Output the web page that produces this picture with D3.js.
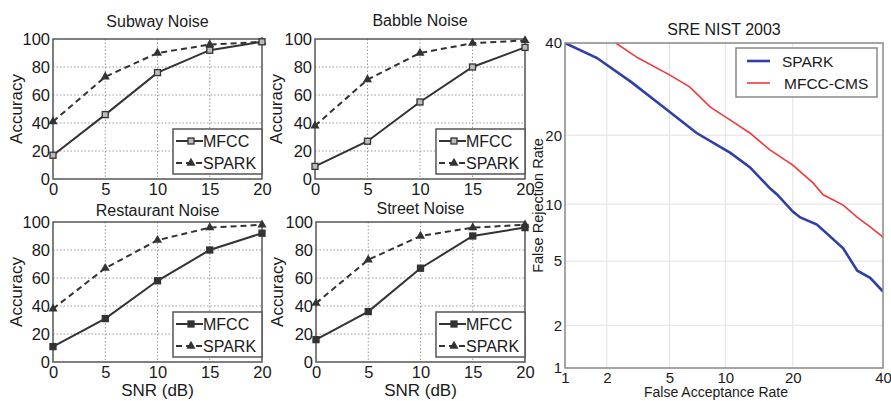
<!DOCTYPE html>
<html>
<head>
<meta charset="utf-8">
<script src="https://cdn.jsdelivr.net/npm/d3@7"></script>
<style>
  html, body { margin: 0; padding: 0; background: #fff; }
  svg { display: block; font-family: "Liberation Sans", Arial, sans-serif; }
</style>
</head>
<body>
<svg id="chart" width="891" height="401"></svg>
<script>
// SNR panels: accuracy of MFCC vs SPARK under four noise types
const snr = [0, 5, 10, 15, 20];
const accTicks = [0, 20, 40, 60, 80, 100];
const subwayMfcc = [17, 46, 76, 92, 98];
const subwaySpark = [41, 73, 90, 96, 98];
const babbleMfcc = [9, 27, 55, 80, 94];
const babbleSpark = [38, 71, 90, 97, 99];
const restMfcc = [11, 31, 58, 80, 92];
const restSpark = [38, 67, 87, 96, 98];
const streetMfcc = [16, 36, 67, 90, 96];
const streetSpark = [42, 73, 90, 96, 98];

// DET curve (SRE NIST 2003), percent on a normal deviate scale
const detTicks = [1, 2, 5, 10, 20, 40];
const sparkFA = [1, 1.7, 2.9, 4.6, 7.1, 10.6, 13.1, 16.1, 17.3, 20.0, 21.4, 24.7, 30.4, 33.7, 36.8, 40];
const sparkFR = [40, 36.4, 30.8, 25.4, 20.4, 17.0, 14.8, 11.9, 11.1, 9.2, 8.6, 7.9, 5.9, 4.4, 4.0, 3.3];
const mfccFA = [2.3, 3.2, 5.0, 6.5, 8.4, 10.6, 13.1, 16.1, 20.0, 23.9, 26.0, 28.1, 30.4, 33.7, 36.8, 40];
const mfccFR = [40, 36.4, 32.4, 29.7, 25.4, 22.8, 20.4, 17.5, 15.1, 12.6, 11.1, 10.5, 9.9, 8.6, 7.7, 6.8];

const svg = d3.select('#chart');
const INK = '#333';
const TXT = '#1a1a1a';

// inverse normal CDF (Acklam)
function probit(p) {
  const a = [-39.69683028665376, 220.9460984245205, -275.9285104469687, 138.3577518672690, -30.66479806614716, 2.506628277459239];
  const b = [-54.47609879822406, 161.5858368580409, -155.6989798598866, 66.80131188771972, -13.28068155288572];
  const c = [-0.007784894002430293, -0.3223964580411365, -2.400758277161838, -2.549732539343734, 4.374664141464968, 2.938163982698783];
  const d = [0.007784695709041462, 0.3224671290700398, 2.445134137142996, 3.754408661907416];
  const pl = 0.02425;
  let q, r;
  if (p < pl) {
    q = Math.sqrt(-2 * Math.log(p));
    return (((((c[0]*q+c[1])*q+c[2])*q+c[3])*q+c[4])*q+c[5]) / ((((d[0]*q+d[1])*q+d[2])*q+d[3])*q+1);
  } else if (p <= 1 - pl) {
    q = p - 0.5; r = q * q;
    return (((((a[0]*r+a[1])*r+a[2])*r+a[3])*r+a[4])*r+a[5])*q / (((((b[0]*r+b[1])*r+b[2])*r+b[3])*r+b[4])*r+1);
  }
  q = Math.sqrt(-2 * Math.log(1 - p));
  return -(((((c[0]*q+c[1])*q+c[2])*q+c[3])*q+c[4])*q+c[5]) / ((((d[0]*q+d[1])*q+d[2])*q+d[3])*q+1);
}

function panel(opt) {
  const x = d3.scaleLinear().domain([0, 20]).range([opt.x0, opt.x1]);
  const y = d3.scaleLinear().domain([0, 100]).range([opt.y1, opt.y0]);
  const g = svg.append('g');

  // dotted grid
  g.selectAll('.gx').data(snr.slice(1, -1)).join('line')
    .attr('x1', d => x(d)).attr('x2', d => x(d)).attr('y1', opt.y0).attr('y2', opt.y1)
    .attr('stroke', '#999').attr('stroke-width', 1).attr('stroke-dasharray', '1.5,2');
  g.selectAll('.gy').data(accTicks.slice(1, -1)).join('line')
    .attr('x1', opt.x0).attr('x2', opt.x1).attr('y1', d => y(d)).attr('y2', d => y(d))
    .attr('stroke', '#999').attr('stroke-width', 1).attr('stroke-dasharray', '1.5,2');

  g.append('rect').attr('x', opt.x0).attr('y', opt.y0)
    .attr('width', opt.x1 - opt.x0).attr('height', opt.y1 - opt.y0)
    .attr('fill', 'none').attr('stroke', '#555').attr('stroke-width', 1.5);

  const xa = g.append('g').attr('transform', `translate(0,${opt.y1})`)
    .call(d3.axisBottom(x).tickValues(snr).tickSize(0).tickPadding(4));
  xa.select('.domain').remove();
  xa.selectAll('text').attr('font-size', 16.5).attr('fill', TXT).attr('font-family', null);

  const ya = g.append('g').attr('transform', `translate(${opt.x0},0)`)
    .call(d3.axisLeft(y).tickValues(accTicks).tickSize(0).tickPadding(3));
  ya.select('.domain').remove();
  ya.selectAll('text').attr('font-size', 16.5).attr('fill', TXT).attr('font-family', null);

  g.append('text').attr('x', (opt.x0 + opt.x1) / 2).attr('y', opt.y0 - opt.tpad)
    .attr('text-anchor', 'middle').attr('font-size', 16).attr('fill', TXT).text(opt.title);
  g.append('text').attr('transform', `translate(${opt.x0 - opt.ypad},${(opt.y0 + opt.y1) / 2}) rotate(-90)`)
    .attr('text-anchor', 'middle').attr('font-size', 17).attr('fill', TXT).text('Accuracy');
  if (opt.xlabel) {
    g.append('text').attr('x', (opt.x0 + opt.x1) / 2).attr('y', opt.y1 + 34)
      .attr('text-anchor', 'middle').attr('font-size', 17).attr('fill', TXT).text('SNR (dB)');
  }

  const line = d3.line().x((d, i) => x(snr[i])).y(d => y(d));
  g.append('path').datum(opt.spark).attr('d', line).attr('fill', 'none')
    .attr('stroke', INK).attr('stroke-width', 2).attr('stroke-dasharray', '6,4');
  g.append('path').datum(opt.mfcc).attr('d', line).attr('fill', 'none')
    .attr('stroke', INK).attr('stroke-width', 2);

  const tri = d3.symbol().type(d3.symbolTriangle).size(36);
  g.selectAll('.tri').data(opt.spark).join('path')
    .attr('transform', (d, i) => `translate(${x(snr[i])},${y(d)})`)
    .attr('d', tri).attr('fill', INK);
  g.selectAll('.sq').data(opt.mfcc).join('rect')
    .attr('x', (d, i) => x(snr[i]) - 3).attr('y', d => y(d) - 3)
    .attr('width', 6).attr('height', 6)
    .attr('fill', opt.hollow ? '#bbb' : INK).attr('stroke', INK).attr('stroke-width', 1.3);

  // legend, lower right
  const lx = opt.x1 - 89, ly = opt.y1 - 50;
  const lg = g.append('g').attr('transform', `translate(${lx},${ly})`);
  lg.append('rect').attr('width', 89).attr('height', 45).attr('fill', '#fff')
    .attr('stroke', '#555').attr('stroke-width', 1.5);
  lg.append('line').attr('x1', 3).attr('x2', 30).attr('y1', 12).attr('y2', 12)
    .attr('stroke', INK).attr('stroke-width', 2);
  lg.append('rect').attr('x', 15).attr('y', 9).attr('width', 6).attr('height', 6)
    .attr('fill', opt.hollow ? '#bbb' : INK).attr('stroke', INK).attr('stroke-width', 1.3);
  lg.append('text').attr('x', 30).attr('y', 18).attr('font-size', 16).attr('fill', TXT).text('MFCC');
  lg.append('line').attr('x1', 3).attr('x2', 30).attr('y1', 34).attr('y2', 34)
    .attr('stroke', INK).attr('stroke-width', 2).attr('stroke-dasharray', '6,4');
  lg.append('path').attr('transform', 'translate(18,34)').attr('d', tri).attr('fill', INK);
  lg.append('text').attr('x', 30).attr('y', 40).attr('font-size', 16).attr('fill', TXT).text('SPARK');
}

panel({ title: 'Subway Noise', x0: 53, x1: 262, y0: 39, y1: 179, tpad: 12, ypad: 31, mfcc: subwayMfcc, spark: subwaySpark, hollow: true });
panel({ title: 'Babble Noise', x0: 315, x1: 525, y0: 39, y1: 179, tpad: 13, ypad: 33, mfcc: babbleMfcc, spark: babbleSpark, hollow: true });
panel({ title: 'Restaurant Noise', x0: 53, x1: 262, y0: 222, y1: 362, tpad: 6, ypad: 31, mfcc: restMfcc, spark: restSpark, xlabel: true });
panel({ title: 'Street Noise', x0: 316, x1: 525, y0: 222, y1: 362, tpad: 8, ypad: 33, mfcc: streetMfcc, spark: streetSpark, xlabel: true });

// DET panel
(function () {
  const X0 = 565, X1 = 883, Y0 = 43, Y1 = 368;
  const sx = d3.scaleLinear().domain([probit(0.01), probit(0.40)]).range([X0, X1]);
  const sy = d3.scaleLinear().domain([probit(0.01), probit(0.40)]).range([Y1, Y0]);
  const fx = v => sx(probit(v / 100));
  const fy = v => sy(probit(v / 100));
  const g = svg.append('g');

  g.selectAll('.gx').data(detTicks.slice(1, -1)).join('line')
    .attr('x1', d => fx(d)).attr('x2', d => fx(d)).attr('y1', Y0).attr('y2', Y1)
    .attr('stroke', '#e2e2e2').attr('stroke-width', 1);
  g.selectAll('.gy').data(detTicks.slice(1, -1)).join('line')
    .attr('x1', X0).attr('x2', X1).attr('y1', d => fy(d)).attr('y2', d => fy(d))
    .attr('stroke', '#e2e2e2').attr('stroke-width', 1);

  g.append('text').attr('x', (X0 + X1) / 2).attr('y', 35).attr('text-anchor', 'middle')
    .attr('font-size', 16).attr('fill', TXT).text('SRE NIST 2003');

  const clip = svg.append('clipPath').attr('id', 'detclip');
  clip.append('rect').attr('x', X0).attr('y', Y0).attr('width', X1 - X0).attr('height', Y1 - Y0);

  const line = d3.line().x(d => fx(d[0])).y(d => fy(d[1]));
  g.append('path').datum(d3.zip(mfccFA, mfccFR)).attr('d', line).attr('clip-path', 'url(#detclip)')
    .attr('fill', 'none').attr('stroke', '#f0393c').attr('stroke-width', 1.6);
  g.append('path').datum(d3.zip(sparkFA, sparkFR)).attr('d', line).attr('clip-path', 'url(#detclip)')
    .attr('fill', 'none').attr('stroke', '#2f3fa6').attr('stroke-width', 2.6);

  g.append('rect').attr('x', X0).attr('y', Y0).attr('width', X1 - X0).attr('height', Y1 - Y0)
    .attr('fill', 'none').attr('stroke', '#888').attr('stroke-width', 1.5);

  const xa = g.append('g').attr('transform', `translate(0,${Y1})`)
    .call(d3.axisBottom(d3.scaleLinear().domain(sx.domain()).range(sx.range()))
      .tickValues(detTicks.map(v => probit(v / 100))).tickSize(0).tickPadding(4)
      .tickFormat((d, i) => detTicks[i]));
  xa.select('.domain').remove();
  xa.selectAll('text').attr('font-size', 15).attr('fill', TXT).attr('font-family', null);

  const ya = g.append('g').attr('transform', `translate(${X0},0)`)
    .call(d3.axisLeft(d3.scaleLinear().domain(sy.domain()).range(sy.range()))
      .tickValues(detTicks.map(v => probit(v / 100))).tickSize(0).tickPadding(3)
      .tickFormat((d, i) => detTicks[i]));
  ya.select('.domain').remove();
  ya.selectAll('text').attr('font-size', 15).attr('fill', TXT).attr('font-family', null);

  g.append('text').attr('x', 716).attr('y', 397).attr('text-anchor', 'middle')
    .attr('font-size', 14).attr('fill', TXT).text('False Acceptance Rate');
  g.append('text').attr('transform', `translate(543,${(Y0 + Y1) / 2}) rotate(-90)`)
    .attr('text-anchor', 'middle').attr('font-size', 14.5).attr('fill', TXT).text('False Rejection Rate');

  const lg = g.append('g').attr('transform', 'translate(736,48)');
  lg.append('rect').attr('width', 141).attr('height', 49).attr('fill', '#fff')
    .attr('stroke', '#888').attr('stroke-width', 1.5);
  lg.append('line').attr('x1', 11).attr('x2', 34).attr('y1', 13).attr('y2', 13)
    .attr('stroke', '#2f3fa6').attr('stroke-width', 2.6);
  lg.append('text').attr('x', 46).attr('y', 19).attr('font-size', 15.5).attr('fill', TXT).text('SPARK');
  lg.append('line').attr('x1', 11).attr('x2', 34).attr('y1', 35).attr('y2', 35)
    .attr('stroke', '#f0393c').attr('stroke-width', 1.6);
  lg.append('text').attr('x', 48).attr('y', 41).attr('font-size', 15.5).attr('fill', TXT).text('MFCC-CMS');
})();
</script>
</body>
</html>
